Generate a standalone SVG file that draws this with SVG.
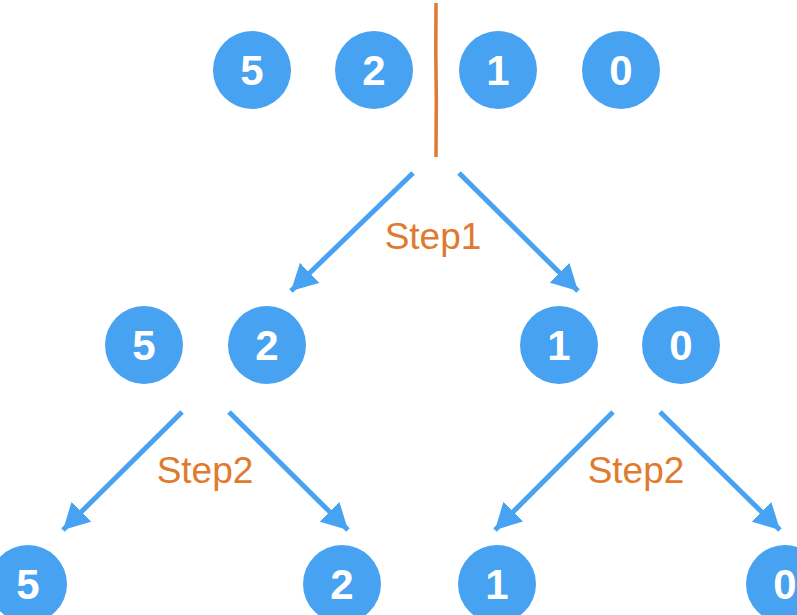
<svg xmlns="http://www.w3.org/2000/svg" width="797" height="615" viewBox="0 0 797 615">
<defs>
<style>
.n circle{fill:#47A2F2}
.n text{fill:#fff;font-family:"Liberation Sans",Arial,sans-serif;font-weight:bold;font-size:42px;text-anchor:middle}
.e{stroke:#47A2F2;stroke-width:5;fill:none;marker-end:url(#ah)}
.lbl{fill:#E07A2E;font-family:"Liberation Sans",Arial,sans-serif;font-size:37px;text-anchor:middle}
</style>
<marker id="ah" viewBox="0 0 26 28" refX="26" refY="14" markerWidth="26" markerHeight="28" markerUnits="userSpaceOnUse" orient="auto">
<path d="M0,0 L26,14 L0,28 z" fill="#47A2F2"/>
</marker>
</defs>
<rect width="797" height="615" fill="#fff"/>
<path d="M436,3 L435.8,50 L436.3,100 L436,157" stroke="#E07A2E" stroke-width="3.5" fill="none"/>
<g id="connectors">
<path class="e" d="M413,173 L291,291"/>
<path class="e" d="M459,173 L578,291"/>
<path class="e" d="M182,412 L63,530"/>
<path class="e" d="M229,412 L348,530"/>
<path class="e" d="M613,412 L495,530"/>
<path class="e" d="M660,412 L780,530"/>
</g>
<g id="labels">
<text class="lbl" x="433" y="249">Step1</text>
<text class="lbl" x="205" y="483">Step2</text>
<text class="lbl" x="636" y="483">Step2</text>
</g>
<g id="t5" class="n"><circle cx="252" cy="70" r="39"/><text x="252" y="85">5</text></g>
<g id="t2" class="n"><circle cx="374" cy="70" r="39"/><text x="374" y="85">2</text></g>
<g id="t1" class="n"><circle cx="498" cy="70" r="39"/><text x="498" y="85">1</text></g>
<g id="t0" class="n"><circle cx="621" cy="70" r="39"/><text x="621" y="85">0</text></g>
<g id="m5" class="n"><circle cx="144" cy="345" r="39"/><text x="144" y="360">5</text></g>
<g id="m2" class="n"><circle cx="267" cy="345" r="39"/><text x="267" y="360">2</text></g>
<g id="m1" class="n"><circle cx="559" cy="345" r="39"/><text x="559" y="360">1</text></g>
<g id="m0" class="n"><circle cx="681" cy="345" r="39"/><text x="681" y="360">0</text></g>
<g id="b5" class="n"><circle cx="28" cy="584" r="39"/><text x="28" y="599">5</text></g>
<g id="b2" class="n"><circle cx="342" cy="584" r="39"/><text x="342" y="599">2</text></g>
<g id="b1" class="n"><circle cx="497" cy="584" r="39"/><text x="497" y="599">1</text></g>
<g id="b0" class="n"><circle cx="785" cy="584" r="39"/><text x="785" y="599">0</text></g>
</svg>
